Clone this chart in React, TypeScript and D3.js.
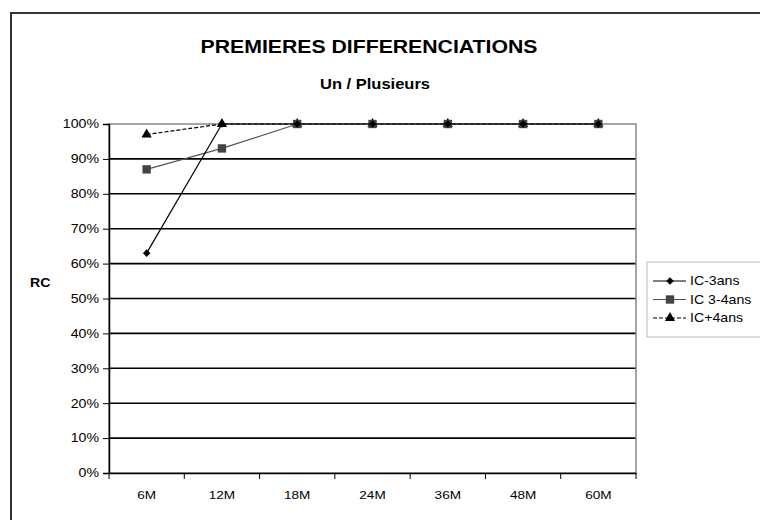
import * as d3 from "d3";
import { useEffect, useRef } from "react";

const categories = ["6M", "12M", "18M", "24M", "36M", "48M", "60M"];
const ic3 = [63, 100, 100, 100, 100, 100, 100];
const ic34 = [87, 93, 100, 100, 100, 100, 100];
const ic4 = [97, 100, 100, 100, 100, 100, 100];
const seriesNames = ["IC-3ans", "IC 3-4ans", "IC+4ans"];
const yTicks = [0, 10, 20, 30, 40, 50, 60, 70, 80, 90, 100];

const App = () => {
  const ref = useRef<SVGSVGElement>(null);

  useEffect(() => {
    const svg = d3.select(ref.current);
    const width = 760;
    const height = 520;
    const font = "'Liberation Sans', Arial, sans-serif";
    const k = 1.18; // the source text is a bit stretched sideways
    svg.attr("width", width).attr("height", height);

    const left = 109;
    const right = 636;
    const top = 124;
    const bottom = 473;

    const label = (
      x: number,
      y: number,
      txt: string,
      size: number,
      bold = false,
      anchor = "start"
    ) =>
      svg
        .append("text")
        .attr("transform", `translate(${x},${y}) scale(${k},1)`)
        .attr("text-anchor", anchor)
        .attr("font-family", font)
        .attr("font-weight", bold ? "bold" : "normal")
        .attr("font-size", `${size}px`)
        .attr("fill", "#000")
        .text(txt);

    // outer frame
    svg
      .append("rect")
      .attr("x", 11)
      .attr("y", 13)
      .attr("width", 800)
      .attr("height", 560)
      .attr("fill", "#fff")
      .attr("stroke", "#333")
      .attr("stroke-width", 2);

    label(369, 53, "PREMIERES DIFFERENCIATIONS", 18, true, "middle");
    label(375, 89, "Un / Plusieurs", 14, true, "middle");

    const x = d3.scaleBand().domain(categories).range([left, right]);
    const y = d3.scaleLinear().domain([0, 100]).range([bottom, top]);

    // gridlines
    svg
      .append("g")
      .selectAll("line")
      .data(yTicks.filter((d) => d > 0 && d < 100))
      .join("line")
      .attr("x1", left)
      .attr("x2", right)
      .attr("y1", (d) => y(d))
      .attr("y2", (d) => y(d))
      .attr("stroke", "#000")
      .attr("stroke-width", 1.6);

    // plot area border (grey)
    svg
      .append("rect")
      .attr("x", left)
      .attr("y", top)
      .attr("width", right - left)
      .attr("height", bottom - top)
      .attr("fill", "none")
      .attr("stroke", "#888")
      .attr("stroke-width", 1.5);

    // y axis
    const yAxis = svg
      .append("g")
      .attr("transform", `translate(${left},0)`)
      .call(
        d3
          .axisLeft(y)
          .tickValues(yTicks)
          .tickSize(6)
          .tickPadding(4)
          .tickFormat((d) => `${d}%`)
      );
    yAxis.select(".domain").attr("stroke", "#000").attr("stroke-width", 1.5);
    yAxis.selectAll(".tick line").attr("stroke", "#000");
    yAxis
      .selectAll("text")
      .attr("x", -10 / k)
      .attr("transform", `scale(${k},1)`)
      .attr("font-family", font)
      .attr("font-size", "12px")
      .attr("fill", "#000");

    // x axis
    const xAxis = svg
      .append("g")
      .attr("transform", `translate(0,${bottom})`)
      .call(d3.axisBottom(x).tickSize(0).tickPadding(18));
    xAxis.select(".domain").attr("stroke", "#000").attr("stroke-width", 1.5);
    xAxis
      .selectAll("text")
      .attr("transform", `scale(${k},1)`)
      .attr("font-family", font)
      .attr("font-size", "11.5px")
      .attr("fill", "#000");
    svg
      .append("g")
      .selectAll("line")
      .data([...categories.map((c) => x(c)!), right])
      .join("line")
      .attr("x1", (d) => d)
      .attr("x2", (d) => d)
      .attr("y1", bottom)
      .attr("y2", bottom + 6)
      .attr("stroke", "#000");

    label(30, 287, "RC", 12, true);

    const cx = (c: string) => x(c)! + x.bandwidth() / 2;
    const line = d3
      .line<number>()
      .x((_, i) => cx(categories[i]))
      .y((d) => y(d));

    const series = [
      { name: seriesNames[0], values: ic3, color: "#000", marker: "#000", dash: null, shape: d3.symbolDiamond2, size: 36 },
      { name: seriesNames[1], values: ic34, color: "#555", marker: "#444", dash: null, shape: d3.symbolSquare, size: 70 },
      { name: seriesNames[2], values: ic4, color: "#000", marker: "#000", dash: "4,2", shape: d3.symbolTriangle, size: 45 },
    ];

    const sym = (s: any) => d3.symbol().type(s.shape).size(s.size)();

    // draw in reverse so black series on top
    [...series].reverse().forEach((s) => {
      svg
        .append("path")
        .attr("d", line(s.values))
        .attr("fill", "none")
        .attr("stroke", s.color)
        .attr("stroke-width", 1.2)
        .attr("stroke-dasharray", s.dash);
      svg
        .append("g")
        .selectAll("path")
        .data(s.values)
        .join("path")
        .attr("d", sym(s))
        .attr("transform", (d, i) => `translate(${cx(categories[i])},${y(d)})`)
        .attr("fill", s.marker);
    });

    // legend
    svg
      .append("rect")
      .attr("x", 647)
      .attr("y", 262)
      .attr("width", 130)
      .attr("height", 75)
      .attr("fill", "#fff")
      .attr("stroke", "#bbb");
    series.forEach((s, i) => {
      const ly = 281 + i * 18.5;
      svg
        .append("line")
        .attr("x1", 653)
        .attr("x2", 686)
        .attr("y1", ly)
        .attr("y2", ly)
        .attr("stroke", s.color)
        .attr("stroke-width", 1.2)
        .attr("stroke-dasharray", s.dash);
      svg
        .append("path")
        .attr("d", sym(s))
        .attr("transform", `translate(670,${ly})`)
        .attr("fill", s.marker);
      label(690, ly + 4, s.name, 12);
    });

    return () => {
      svg.selectAll("*").remove();
    };
  }, []);

  return (
    <svg
      ref={ref}
      style={{ position: "absolute", left: 0, top: 0, display: "block" }}
    ></svg>
  );
};

export default App;
